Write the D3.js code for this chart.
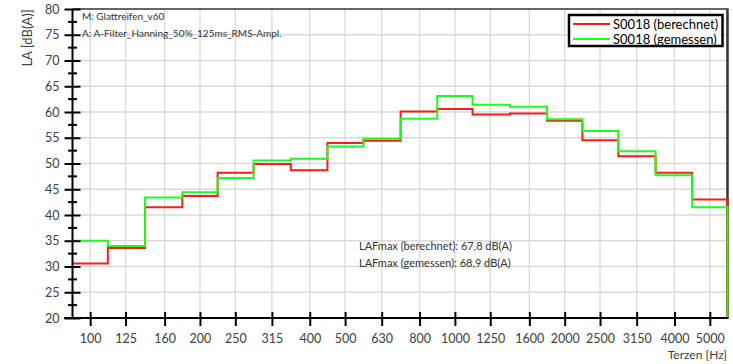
<!DOCTYPE html>
<html>
<head>
<meta charset="utf-8">
<script src="https://cdn.jsdelivr.net/npm/d3@7"></script>
<style>
  body { margin: 0; background: #fff; }
  svg text { font-family: Lato, "Open Sans", sans-serif; }
</style>
</head>
<body>
<svg id="chart"></svg>
<script>
// third-octave bands
var freqs = [100,125,160,200,250,315,400,500,630,800,1000,1250,1600,2000,2500,3150,4000,5000];
var berechnet = [30.6,33.6,41.5,43.7,48.2,49.9,48.7,54.0,54.4,60.1,60.6,59.5,59.7,58.3,54.5,51.4,48.2,43.0];
var gemessen  = [35.0,34.0,43.4,44.4,47.2,50.6,50.9,53.3,54.8,58.7,63.1,61.4,61.0,58.6,56.3,52.4,47.7,41.5];
var yTicks = [20,25,30,35,40,45,50,55,60,65,70,75,80];
var seriesNames = ["S0018 (berechnet)", "S0018 (gemessen)"];
var seriesColors = ["#ff1a1a", "#1aff1a"];
var notes = ["M: Glattreifen_v60", "A: A-Filter_Hanning_50%_125ms_RMS-Ampl."];
var laf = ["LAFmax (berechnet): 67,8 dB(A)", "LAFmax (gemessen): 68,9 dB(A)"];

var screen = {width: 733, height: 364};
var plot = {left: 72.5, right: 727.5, top: 9, bottom: 318};

var svg = d3.select("#chart")
    .attr("width", screen.width)
    .attr("height", screen.height);

// band edges (geometric means between nominal freqs)
var edges = [];
edges.push(freqs[0] / Math.sqrt(freqs[1] / freqs[0]));
for (var i = 1; i < freqs.length; i++) {
    edges.push(Math.sqrt(freqs[i - 1] * freqs[i]));
}
var n = freqs.length;
edges.push(freqs[n - 1] * Math.sqrt(freqs[n - 1] / freqs[n - 2]));

var x = d3.scaleLog()
    .domain([edges[0], edges[n]])
    .range([plot.left, plot.right]);
var y = d3.scaleLinear()
    .domain([20, 80])
    .range([plot.bottom, plot.top]);

// grid
var grid = svg.append("g").attr("stroke", "#d9d9d9").attr("stroke-width", 1.3);
grid.selectAll(".vg").data(freqs).enter().append("line")
    .attr("x1", function(d){ return x(d); })
    .attr("x2", function(d){ return x(d); })
    .attr("y1", plot.top).attr("y2", plot.bottom);
grid.selectAll(".hg").data(yTicks.slice(1, -1)).enter().append("line")
    .attr("x1", plot.left).attr("x2", plot.right)
    .attr("y1", function(d){ return y(d); })
    .attr("y2", function(d){ return y(d); });

// frame
svg.append("line")
    .attr("x1", plot.left).attr("x2", plot.right + 1)
    .attr("y1", plot.top).attr("y2", plot.top)
    .attr("stroke", "#333").attr("stroke-width", 1.5);
svg.append("line")
    .attr("x1", plot.right).attr("x2", plot.right)
    .attr("y1", plot.top).attr("y2", plot.bottom)
    .attr("stroke", "#333").attr("stroke-width", 2.5);

// step lines
var line = d3.line()
    .x(function(d){ return x(d[0]); })
    .y(function(d){ return y(d[1]); })
    .curve(d3.curveStepAfter);

function stepPoints(vals) {
    var pts = vals.map(function(v, i){ return [edges[i], v]; });
    pts.push([edges[n], vals[n - 1]]);
    pts.push([edges[n], 20]);
    return pts;
}

[berechnet, gemessen].forEach(function(vals, i){
    svg.append("path")
        .datum(stepPoints(vals))
        .attr("d", line)
        .attr("fill", "none")
        .attr("stroke", seriesColors[i])
        .attr("stroke-width", 2);
});

// x axis
var xAxis = d3.axisBottom(x).tickValues(freqs).tickFormat(d3.format("d")).tickSizeOuter(0);
var gx = svg.append("g")
    .attr("transform", "translate(0," + plot.bottom + ")")
    .call(xAxis);
gx.select(".domain").remove();
gx.selectAll(".tick line").attr("y1", -6).attr("y2", 8).attr("stroke", "#000").attr("stroke-width", 2);
gx.selectAll(".tick text").attr("y", 16).attr("font-size", 12.5).attr("fill", "#404040")
    .attr("font-family", "Lato, sans-serif");
svg.append("line")
    .attr("x1", 64).attr("x2", plot.right + 1)
    .attr("y1", plot.bottom).attr("y2", plot.bottom)
    .attr("stroke", "#000").attr("stroke-width", 2);

// y axis
var yAxis = d3.axisLeft(y).tickValues(yTicks).tickSizeOuter(0);
var gy = svg.append("g")
    .attr("transform", "translate(" + plot.left + ",0)")
    .call(yAxis);
gy.select(".domain").remove();
gy.selectAll(".tick line").attr("x1", -8).attr("x2", 8).attr("stroke", "#000").attr("stroke-width", 2);
gy.selectAll(".tick text").attr("x", -13).attr("font-size", 12.5).attr("fill", "#404040")
    .attr("font-family", "Lato, sans-serif");
var minor = d3.range(22.5, 80, 5);
svg.append("g").selectAll("line").data(minor).enter().append("line")
    .attr("x1", plot.left - 4.5).attr("x2", plot.left + 4.5)
    .attr("y1", function(d){ return y(d); })
    .attr("y2", function(d){ return y(d); })
    .attr("stroke", "#000").attr("stroke-width", 2);
svg.append("line")
    .attr("x1", plot.left).attr("x2", plot.left)
    .attr("y1", plot.top).attr("y2", plot.bottom)
    .attr("stroke", "#000").attr("stroke-width", 2);

// axis titles
svg.append("text")
    .attr("transform", "translate(32,38) rotate(-90)")
    .attr("text-anchor", "middle")
    .attr("font-size", 13)
    .attr("fill", "#404040")
    .text("LA [dB(A)]");
svg.append("text")
    .attr("x", 727).attr("y", 359)
    .attr("text-anchor", "end")
    .attr("font-size", 12)
    .attr("fill", "#404040")
    .text("Terzen [Hz]");

// notes
svg.selectAll(".note").data(notes).enter().append("text")
    .attr("x", 82)
    .attr("y", function(d, i){ return 20 + i * 16.5; })
    .attr("font-size", 10)
    .attr("fill", "#333")
    .text(function(d){ return d; });
svg.selectAll(".laf").data(laf).enter().append("text")
    .attr("x", 359)
    .attr("y", function(d, i){ return 249.5 + i * 17; })
    .attr("font-size", 11)
    .attr("fill", "#333")
    .text(function(d){ return d; });

// legend
var leg = svg.append("g");
leg.append("rect")
    .attr("x", 569).attr("y", 15).attr("width", 153.5).attr("height", 31)
    .attr("fill", "#fff").attr("stroke", "#000").attr("stroke-width", 2.5);
seriesNames.forEach(function(name, i){
    var ly = 24 + i * 15;
    leg.append("line")
        .attr("x1", 573).attr("x2", 610)
        .attr("y1", ly).attr("y2", ly)
        .attr("stroke", seriesColors[i]).attr("stroke-width", 2);
    leg.append("text")
        .attr("x", 613).attr("y", ly + 4.5)
        .attr("font-size", 13)
        .attr("fill", "#000")
        .text(name);
});
</script>
</body>
</html>
